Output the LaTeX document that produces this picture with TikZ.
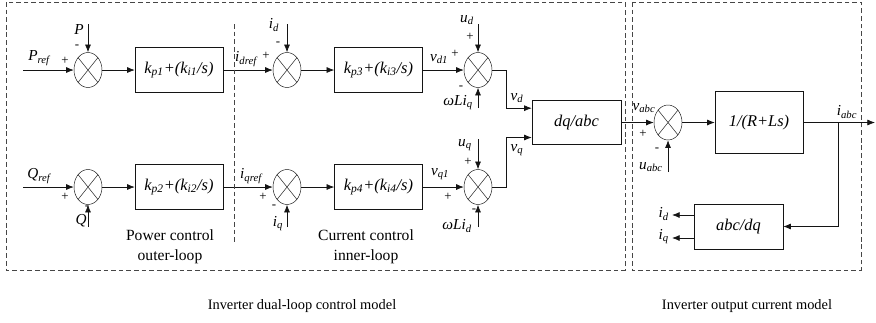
\documentclass[tikz,border=0pt]{standalone}
\usepackage{fontspec}
\setmainfont{Liberation Serif}
\usetikzlibrary{shapes.geometric,arrows.meta}
\definecolor{lnclr}{RGB}{20,20,20}
\definecolor{frclr}{RGB}{70,70,70}

\tikzset{
  blk/.style={draw=lnclr, rectangle, minimum width=2.64cm, minimum height=1.35cm, font=\fontsize{14}{16}\selectfont\itshape},
  sumj/.style={draw=lnclr, ellipse, minimum width=0.84cm, minimum height=1.05cm, inner sep=0pt,
    path picture={\draw[lnclr] (path picture bounding box.north west) -- (path picture bounding box.south east)
      (path picture bounding box.south west) -- (path picture bounding box.north east);}},
  sig/.style={font=\fontsize{13}{15}\selectfont\itshape, inner sep=0pt},
  sgn/.style={font=\fontsize{11}{12}\selectfont, inner sep=0pt},
  capt/.style={font=\fontsize{13.3}{17}\selectfont, align=center},
  wire/.style={draw=lnclr, line width=0.6pt, -{Latex[length=2.3mm,width=1.8mm]}},
  frame/.style={draw=frclr, line width=0.6pt, dashed, dash pattern=on 4pt off 2.5pt},
}

\begin{document}
\begin{tikzpicture}[x=0.03cm, y=-0.03cm]
\useasboundingbox (0,0) rectangle (876,322);

% control loops, d row and q row
\foreach \r/\y/\a/\b in {d/70/1/3, q/187/2/4} {
  \node[sumj] (s1\r) at (88,\y) {};
  \node[blk] (g\a) at (179,\y) {k\textsubscript{p\a}+(k\textsubscript{i\a}/s)};
  \node[sumj] (s2\r) at (287,\y) {};
  \node[blk] (g\b) at (378.5,\y) {k\textsubscript{p\b}+(k\textsubscript{i\b}/s)};
  \node[sumj] (s3\r) at (478,\y) {};
  \draw[wire] (s1\r) -- (g\a);
  \draw[wire] (g\a) -- (s2\r);
  \draw[wire] (s2\r) -- (g\b);
  \draw[wire] (g\b) -- (s3\r);
}

% inputs of the d row
\coordinate (pin) at (23,70);
\coordinate (pfb) at (88,24);
\coordinate (idfb) at (287,24);
\coordinate (udin) at (478,24);
\coordinate (wqin) at (478,108);
\draw[wire] (pin) -- (s1d);
\draw[wire] (pfb) -- (s1d);
\draw[wire] (idfb) -- (s2d);
\draw[wire] (udin) -- (s3d);
\draw[wire] (wqin) -- (s3d);
\node[sig] (lPref) at (39,58) {P\textsubscript{ref}};
\node[sgn] (pl1) at (65,61) {+};
\node[sig] (lP) at (79,30) {P};
\node[sgn] (mi1) at (77,47) {-};
\node[sig] (lidref) at (246,59) {i\textsubscript{dref}};
\node[sgn] (pl2) at (266,56) {+};
\node[sig] (lid) at (274,25) {i\textsubscript{d}};
\node[sgn] (mi2) at (278,44) {-};
\node[sig] (lvd1) at (439,59) {v\textsubscript{d1}};
\node[sgn] (pl3) at (455,54) {+};
\node[sig] (lud) at (467,20) {u\textsubscript{d}};
\node[sgn] (pl4) at (470,37) {+};
\node[sgn] (mi3) at (461,88) {-};
\node[sig] (lwLiq) at (458,103) {ωLi\textsubscript{q}};

% inputs of the q row
\coordinate (qin) at (23,187);
\coordinate (qfb) at (88,227);
\coordinate (iqfb) at (287,227);
\coordinate (uqin) at (478,139);
\coordinate (wdin) at (478,227);
\draw[wire] (qin) -- (s1q);
\draw[wire] (qfb) -- (s1q);
\draw[wire] (iqfb) -- (s2q);
\draw[wire] (uqin) -- (s3q);
\draw[wire] (wdin) -- (s3q);
\node[sig] (lQref) at (39,176) {Q\textsubscript{ref}};
\node[sgn] (pl5) at (65,197) {+};
\node[sgn] (mi4) at (87,208) {-};
\node[sig] (lQ) at (81,221) {Q};
\node[sig] (liqref) at (251,176) {i\textsubscript{qref}};
\node[sgn] (pl6) at (263,197) {+};
\node[sgn] (mi5) at (274,207) {-};
\node[sig] (liq) at (278,224) {i\textsubscript{q}};
\node[sig] (lvq1) at (440,174) {v\textsubscript{q1}};
\node[sgn] (pl7) at (448,197) {+};
\node[sig] (luq) at (465,145) {u\textsubscript{q}};
\node[sgn] (pl8) at (468,162) {+};
\node[sgn] (mi6) at (474,211) {-};
\node[sig] (lwLid) at (457,226) {ωLi\textsubscript{d}};

% transformation and plant
\node[blk, minimum width=2.67cm, minimum height=1.32cm] (dq) at (576.5,122.5) {dq/abc};
\node[sumj] (s4) at (668,122.5) {};
\node[blk, minimum height=1.86cm] (plant) at (759,122.5) {1/(R+Ls)};
\node[blk, minimum width=2.67cm] (abcdq) at (738.5,226.5) {abc/dq};
\draw[wire] (s3d.east) -- ++(14,0) |- ([yshift=0.43cm]dq.west);
\draw[wire] (s3q.east) -- ++(14,0) |- ([yshift=-0.45cm]dq.west);
\node[sig] (lvd) at (517,98) {v\textsubscript{d}};
\node[sig] (lvq) at (517,150) {v\textsubscript{q}};
\draw[wire] (dq) -- (s4);
\draw[wire] (s4) -- (plant);
\coordinate (uabcin) at (668,172);
\draw[wire] (uabcin) -- (s4);
\node[sig] (lvabc) at (644,108) {v\textsubscript{abc}};
\node[sgn] (pl9) at (643,134) {+};
\node[sgn] (mi7) at (657,150) {-};
\node[sig] (luabc) at (651,167) {u\textsubscript{abc}};
\coordinate (iout) at (875,122.5);
\coordinate (br) at (838,122.5);
\draw[wire] (plant) -- (iout);
\draw[wire] (br) |- (abcdq.east);
\node[sig] (liabc) at (847,112) {i\textsubscript{abc}};
\coordinate (idout) at (672,215);
\coordinate (iqout) at (672,238);
\draw[wire] (abcdq.west |- idout) -- (idout);
\draw[wire] (abcdq.west |- iqout) -- (iqout);
\node[sig, anchor=east] (lidout) at (669,214) {i\textsubscript{d}};
\node[sig, anchor=east] (liqout) at (669,237) {i\textsubscript{q}};

% dashed frames and captions
\draw[frame] (6,2) rectangle (625,270);
\draw[frame] (632,2) rectangle (861,270);
\draw[frame] (234,24) -- (234,242);
\node[capt] (cpow) at (170,247) {Power control\\outer-loop};
\node[capt] (ccur) at (366,247) {Current control\\inner-loop};
\node[capt, font=\fontsize{12.3}{15}\selectfont] (cdual) at (302,306) {Inverter dual-loop control model};
\node[capt, font=\fontsize{12.3}{15}\selectfont] (cout) at (747,306) {Inverter output current model};
\end{tikzpicture}
\end{document}
